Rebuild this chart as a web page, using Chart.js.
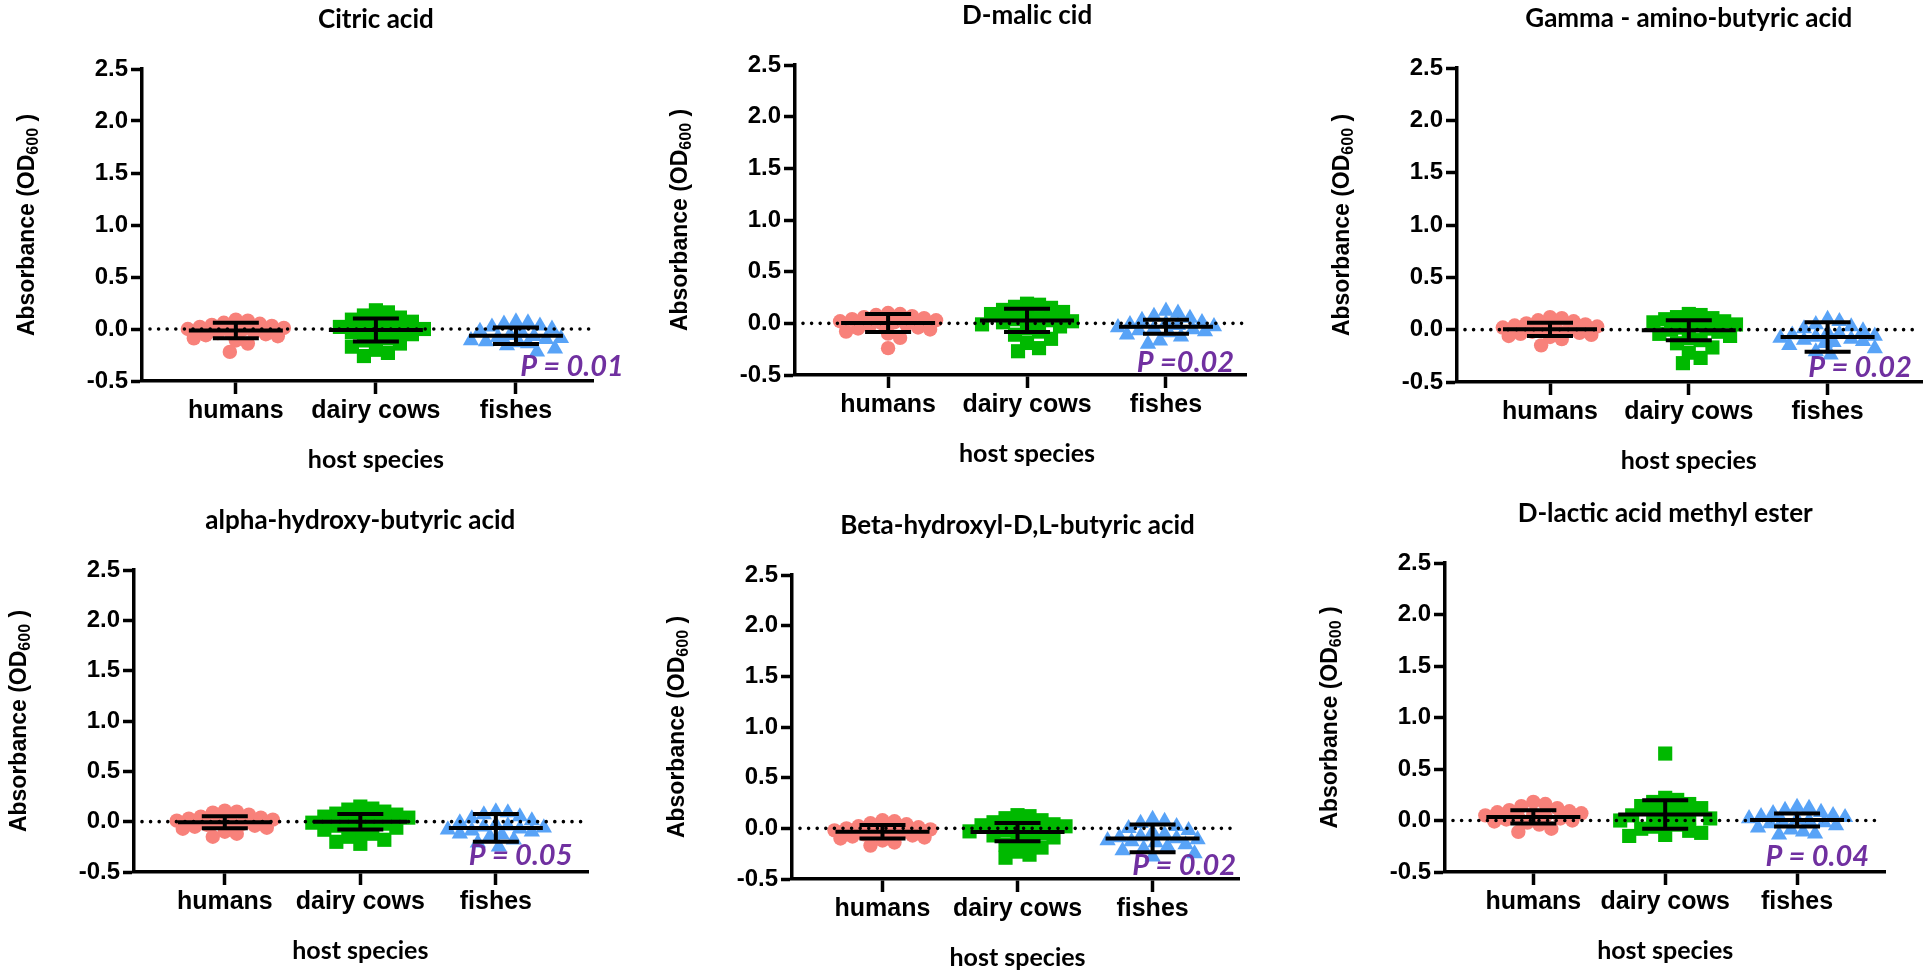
<!DOCTYPE html>
<html>
<head>
<meta charset="utf-8">
<title>Absorbance by host species</title>
<script src="https://cdn.jsdelivr.net/npm/chart.js@4.4.1/dist/chart.umd.min.js"></script>
<style>
  html, body { margin: 0; padding: 0; background: #fff; }
  #page { position: relative; width: 1932px; height: 970px; overflow: hidden; background: #fff; }
  #page canvas { position: absolute; }
</style>
</head>
<body>
<div id="page"></div>
<script>
// ---- data -------------------------------------------------------------
const categories = ['humans', 'dairy cows', 'fishes'];
const panelTitles = [
  'Citric acid',
  'D-malic cid',
  'Gamma - amino-butyric acid',
  'alpha-hydroxy-butyric acid',
  'Beta-hydroxyl-D,L-butyric acid',
  'D-lactic acid methyl ester'
];
const pValueLabels = ['P = 0.01', 'P =0.02', 'P = 0.02', 'P = 0.05', 'P = 0.02', 'P = 0.04'];
const yTickValues = [-0.5, 0, 0.5, 1.0, 1.5, 2.0, 2.5];

// Citric acid
const citricHumans = [0.09, 0.08, 0.06, 0.05, 0.04, 0.03, 0.02, 0.01, 0.00, -0.01, -0.02, -0.03, -0.04, -0.05, -0.06, -0.07, -0.09, -0.11, -0.14, -0.22];
const citricCows   = [0.18, 0.16, 0.13, 0.11, 0.09, 0.07, 0.05, 0.04, 0.02, 0.01, 0.00, -0.01, -0.03, -0.05, -0.07, -0.09, -0.11, -0.14, -0.17, -0.20, -0.23, -0.26];
const citricFishes = [0.07, 0.06, 0.05, 0.03, 0.02, 0.00, -0.02, -0.04, -0.06, -0.07, -0.08, -0.09, -0.10, -0.11, -0.12, -0.13, -0.14, -0.16, -0.19, -0.22];
const citricMean = [-0.015, -0.010, -0.065];
const citricSD   = [0.075, 0.110, 0.080];

// D-malic acid
const malicHumans = [0.10, 0.09, 0.08, 0.07, 0.06, 0.05, 0.04, 0.03, 0.02, 0.01, 0.00, -0.01, -0.02, -0.04, -0.05, -0.06, -0.08, -0.10, -0.14, -0.24];
const malicCows   = [0.19, 0.18, 0.16, 0.15, 0.13, 0.11, 0.09, 0.07, 0.05, 0.04, 0.03, 0.02, 0.01, -0.01, -0.03, -0.05, -0.08, -0.11, -0.15, -0.19, -0.24, -0.27];
const malicFishes = [0.12, 0.10, 0.07, 0.05, 0.03, 0.01, 0.00, -0.01, -0.02, -0.03, -0.04, -0.05, -0.06, -0.07, -0.08, -0.09, -0.11, -0.13, -0.17, -0.20];
const malicMean = [0.003, 0.028, -0.033];
const malicSD   = [0.088, 0.112, 0.068];

// Gamma-amino-butyric acid
const gabaHumans = [0.12, 0.11, 0.09, 0.08, 0.06, 0.05, 0.04, 0.03, 0.02, 0.01, 0.00, -0.01, -0.02, -0.03, -0.04, -0.05, -0.06, -0.07, -0.09, -0.15];
const gabaCows   = [0.15, 0.14, 0.12, 0.11, 0.10, 0.08, 0.07, 0.05, 0.04, 0.02, 0.01, 0.00, -0.02, -0.04, -0.06, -0.08, -0.10, -0.13, -0.17, -0.22, -0.27, -0.32];
const gabaFishes = [0.10, 0.08, 0.05, 0.03, 0.01, -0.01, -0.03, -0.04, -0.05, -0.06, -0.07, -0.08, -0.09, -0.10, -0.11, -0.12, -0.13, -0.15, -0.18, -0.21, -0.24];
const gabaMean = [0.003, -0.005, -0.070];
const gabaSD   = [0.063, 0.095, 0.140];

// alpha-hydroxy-butyric acid
const alphaHumans = [0.11, 0.10, 0.09, 0.07, 0.05, 0.04, 0.03, 0.02, 0.01, 0.00, -0.01, -0.02, -0.03, -0.04, -0.05, -0.06, -0.07, -0.10, -0.12, -0.15];
const alphaCows   = [0.15, 0.13, 0.12, 0.10, 0.08, 0.07, 0.05, 0.04, 0.02, 0.01, 0.00, -0.01, -0.02, -0.04, -0.06, -0.08, -0.10, -0.12, -0.15, -0.18, -0.20, -0.22];
const alphaFishes = [0.10, 0.09, 0.07, 0.05, 0.03, 0.01, -0.01, -0.03, -0.04, -0.05, -0.06, -0.07, -0.08, -0.09, -0.10, -0.12, -0.13, -0.15, -0.18, -0.21, -0.25];
const alphaMean = [-0.005, -0.002, -0.062];
const alphaSD   = [0.060, 0.077, 0.137];

// Beta-hydroxyl-D,L-butyric acid
const betaHumans = [0.08, 0.07, 0.05, 0.04, 0.02, 0.01, 0.00, -0.01, -0.02, -0.03, -0.04, -0.05, -0.06, -0.07, -0.08, -0.09, -0.10, -0.12, -0.14, -0.17];
const betaCows   = [0.13, 0.12, 0.10, 0.08, 0.06, 0.04, 0.03, 0.02, 0.01, -0.01, -0.02, -0.03, -0.05, -0.07, -0.09, -0.11, -0.13, -0.16, -0.19, -0.23, -0.26, -0.29];
const betaFishes = [0.09, 0.07, 0.05, 0.02, 0.00, -0.02, -0.04, -0.06, -0.08, -0.09, -0.10, -0.11, -0.12, -0.13, -0.14, -0.16, -0.18, -0.20, -0.22, -0.25, -0.28];
const betaMean = [-0.034, -0.037, -0.100];
const betaSD   = [0.066, 0.090, 0.137];

// D-lactic acid methyl ester
const lacticHumans = [0.18, 0.16, 0.14, 0.12, 0.10, 0.09, 0.08, 0.07, 0.06, 0.05, 0.04, 0.03, 0.02, 0.01, 0.00, -0.01, -0.02, -0.04, -0.08, -0.11];
const lacticCows   = [0.65, 0.22, 0.20, 0.18, 0.16, 0.14, 0.12, 0.10, 0.08, 0.06, 0.05, 0.03, 0.02, 0.00, -0.02, -0.04, -0.06, -0.08, -0.10, -0.12, -0.14, -0.15];
const lacticFishes = [0.13, 0.12, 0.10, 0.08, 0.07, 0.05, 0.04, 0.03, 0.02, 0.01, 0.00, -0.01, -0.02, -0.03, -0.05, -0.07, -0.09, -0.11, -0.13, -0.14];
const lacticMean = [0.035, 0.058, 0.005];
const lacticSD   = [0.065, 0.139, 0.063];

// ---- layout & styles ----------------------------------------------------
const FONT_ARIAL = '"Liberation Sans", Arial, Helvetica, sans-serif';
const FONT_TITLE = 'Lato, "Open Sans", sans-serif';
const Y_AXIS_W = 72;
const X_AXIS_H = 60;
const X_MIN = 0.33;

const groupStyles = [
  { color: '#F8817A', shape: 'circle',   radius: 7.2 },
  { color: '#00B900', shape: 'rect',     radius: 10 },
  { color: '#58A3F7', shape: 'triangle', radius: 9.4 }
];

// box: canvas [left, top, width, height]; area: plot frame [left, top, right, bottom]
const panels = [
  { title: panelTitles[0], pLabel: pValueLabels[0], groups: [citricHumans, citricCows, citricFishes], mean: citricMean, sd: citricSD,
    box: [0, 0, 650, 485],      area: [142, 69, 593, 381],   xMax: 3.55,  pAt: [3.03, -0.456] },
  { title: panelTitles[1], pLabel: pValueLabels[1], groups: [malicHumans, malicCows, malicFishes], mean: malicMean, sd: malicSD,
    box: [650, 0, 650, 485],    area: [795, 65, 1246, 375],  xMax: 3.576, pAt: [2.79, -0.475] },
  { title: panelTitles[2], pLabel: pValueLabels[2], groups: [gabaHumans, gabaCows, gabaFishes], mean: gabaMean, sd: gabaSD,
    box: [1300, 0, 632, 485],   area: [1457, 68, 1930, 382], xMax: 3.68,  pAt: [2.86, -0.456] },
  { title: panelTitles[3], pLabel: pValueLabels[3], groups: [alphaHumans, alphaCows, alphaFishes], mean: alphaMean, sd: alphaSD,
    box: [0, 485, 650, 485],    area: [134, 570, 588, 872],  xMax: 3.68,  pAt: [2.80, -0.43] },
  { title: panelTitles[4], pLabel: pValueLabels[4], groups: [betaHumans, betaCows, betaFishes], mean: betaMean, sd: betaSD,
    box: [650, 485, 650, 485],  area: [792, 575, 1239, 879], xMax: 3.64,  pAt: [2.85, -0.456] },
  { title: panelTitles[5], pLabel: pValueLabels[5], groups: [lacticHumans, lacticCows, lacticFishes], mean: lacticMean, sd: lacticSD,
    box: [1300, 485, 632, 485], area: [1445, 563, 1885, 872], xMax: 3.667, pAt: [2.76, -0.44] }
];

// Spread the points of one group sideways so the markers do not pile up
// (scatter-dot "swarm" layout): each value takes the free slot closest to the centre.
function swarm(values, center, pxPerX, pxPerY) {
  const placed = [];
  const minDist = 12, step = 3, maxOff = 48;
  return values.map(v => {
    const py = v * pxPerY;
    let best = 0, bestScore = -1;
    for (let k = 0; k <= (maxOff / step) * 2; k++) {
      const off = (k % 2 ? 1 : -1) * Math.ceil(k / 2) * step;
      let d = Infinity;
      for (const q of placed) {
        d = Math.min(d, Math.hypot(off - q[0], py - q[1]));
      }
      if (d >= minDist) { best = off; break; }
      if (d > bestScore) { bestScore = d; best = off; }
    }
    placed.push([best, py]);
    return { x: center + best / pxPerX, y: v };
  });
}

function makeDecor(panel) {
  return {
    id: 'panelDecor',
    afterDatasetsDraw(chart) {
      const { ctx, chartArea: a, scales: { x, y } } = chart;
      ctx.save();
      // dotted reference line at zero
      const y0 = y.getPixelForValue(0);
      ctx.strokeStyle = '#000';
      ctx.lineWidth = 3.6;
      ctx.lineCap = 'round';
      ctx.setLineDash([0, 8.6]);
      ctx.beginPath();
      ctx.moveTo(a.left + 8, y0);
      ctx.lineTo(a.right - 2, y0);
      ctx.stroke();
      ctx.setLineDash([]);

      // mean with SD error bars
      ctx.lineCap = 'butt';
      ctx.lineWidth = 4;
      panel.mean.forEach((m, i) => {
        const cx = x.getPixelForValue(i + 1);
        const ym = y.getPixelForValue(m);
        const yt = y.getPixelForValue(m + panel.sd[i]);
        const yb = y.getPixelForValue(m - panel.sd[i]);
        ctx.beginPath();
        ctx.moveTo(cx - 47, ym); ctx.lineTo(cx + 47, ym);
        ctx.moveTo(cx - 23, yt); ctx.lineTo(cx + 23, yt);
        ctx.moveTo(cx - 23, yb); ctx.lineTo(cx + 23, yb);
        ctx.moveTo(cx, yt); ctx.lineTo(cx, yb);
        ctx.stroke();
      });

      // significance label
      ctx.fillStyle = '#7030A0';
      ctx.font = 'italic bold 29px ' + FONT_TITLE;
      ctx.textAlign = 'left';
      ctx.textBaseline = 'alphabetic';
      ctx.fillText(panel.pLabel, x.getPixelForValue(panel.pAt[0]), y.getPixelForValue(panel.pAt[1]));
      ctx.restore();
    },
    afterDraw(chart) {
      const { ctx, chartArea: a, scales: { x } } = chart;
      const midX = x.getPixelForValue(2);
      ctx.save();
      ctx.fillStyle = '#000';
      ctx.textAlign = 'center';
      ctx.textBaseline = 'middle';
      // panel title
      ctx.font = 'bold 26px ' + FONT_TITLE;
      ctx.fillText(panel.title, midX, a.top - 49);
      // x axis title
      ctx.font = 'bold 25px ' + FONT_TITLE;
      ctx.fillText('host species', midX, a.bottom + 79);

      // y axis title with subscript
      const main1 = 'Absorbance (OD', sub = '600', main2 = ' )';
      const fMain = 'bold 23px ' + FONT_ARIAL, fSub = 'bold 16px ' + FONT_ARIAL;
      ctx.font = fMain;
      const w1 = ctx.measureText(main1).width, w3 = ctx.measureText(main2).width;
      ctx.font = fSub;
      const w2 = ctx.measureText(sub).width;
      const total = w1 + w2 + w3;
      ctx.translate(a.left - 116, (a.top + a.bottom) / 2);
      ctx.rotate(-Math.PI / 2);
      ctx.textAlign = 'left';
      ctx.textBaseline = 'alphabetic';
      let tx = -total / 2;
      const base = 8;
      ctx.font = fMain; ctx.fillText(main1, tx, base); tx += w1;
      ctx.font = fSub;  ctx.fillText(sub, tx, base + 4); tx += w2;
      ctx.font = fMain; ctx.fillText(main2, tx, base);
      ctx.restore();
    }
  };
}

const page = document.getElementById('page');

panels.forEach(panel => {
  const [bl, bt, bw, bh] = panel.box;
  const [al, at, ar, ab] = panel.area;
  const canvas = document.createElement('canvas');
  canvas.width = bw; canvas.height = bh;
  canvas.style.left = bl + 'px'; canvas.style.top = bt + 'px';
  canvas.style.width = bw + 'px'; canvas.style.height = bh + 'px';
  page.appendChild(canvas);

  const pxPerX = (ar - al) / (panel.xMax - X_MIN);
  const pxPerY = (ab - at) / 3;

  const datasets = panel.groups.map((vals, i) => ({
    label: categories[i],
    data: swarm(vals, i + 1, pxPerX, pxPerY),
    pointStyle: groupStyles[i].shape,
    pointRadius: groupStyles[i].radius,
    pointBackgroundColor: groupStyles[i].color,
    pointBorderColor: groupStyles[i].color,
    pointBorderWidth: 0,
    showLine: false
  }));

  new Chart(canvas, {
    type: 'scatter',
    data: { datasets },
    options: {
      responsive: false,
      animation: false,
      devicePixelRatio: 1,
      events: [],
      layout: {
        padding: {
          left: al - bl - Y_AXIS_W,
          right: bl + bw - ar,
          top: at - bt,
          bottom: bt + bh - ab - X_AXIS_H
        }
      },
      plugins: { legend: { display: false }, tooltip: { enabled: false }, title: { display: false } },
      scales: {
        x: {
          type: 'linear',
          min: X_MIN,
          max: panel.xMax,
          afterBuildTicks: s => { s.ticks = categories.map((_, i) => ({ value: i + 1 })); },
          afterFit: s => { s.height = X_AXIS_H; },
          ticks: {
            autoSkip: false,
            maxRotation: 0,
            padding: 2,
            color: '#000',
            font: { family: FONT_ARIAL, size: 25, weight: 'bold' },
            callback: (v, i) => categories[i]
          },
          grid: { display: true, drawOnChartArea: false, drawTicks: true, tickLength: 13, tickWidth: 3.5, tickColor: '#000' },
          border: { display: true, width: 3.5, color: '#000' }
        },
        y: {
          type: 'linear',
          min: -0.5,
          max: 2.5,
          afterBuildTicks: s => { s.ticks = yTickValues.map(v => ({ value: v })); },
          afterFit: s => { s.width = Y_AXIS_W; },
          ticks: {
            padding: 3,
            color: '#000',
            font: { family: FONT_ARIAL, size: 24, weight: 'bold' },
            callback: v => Number(v).toFixed(1)
          },
          grid: { display: true, drawOnChartArea: false, drawTicks: true, tickLength: 11, tickWidth: 3.5, tickColor: '#000' },
          border: { display: true, width: 3.5, color: '#000' }
        }
      }
    },
    plugins: [makeDecor(panel)]
  });
});
</script>
</body>
</html>
